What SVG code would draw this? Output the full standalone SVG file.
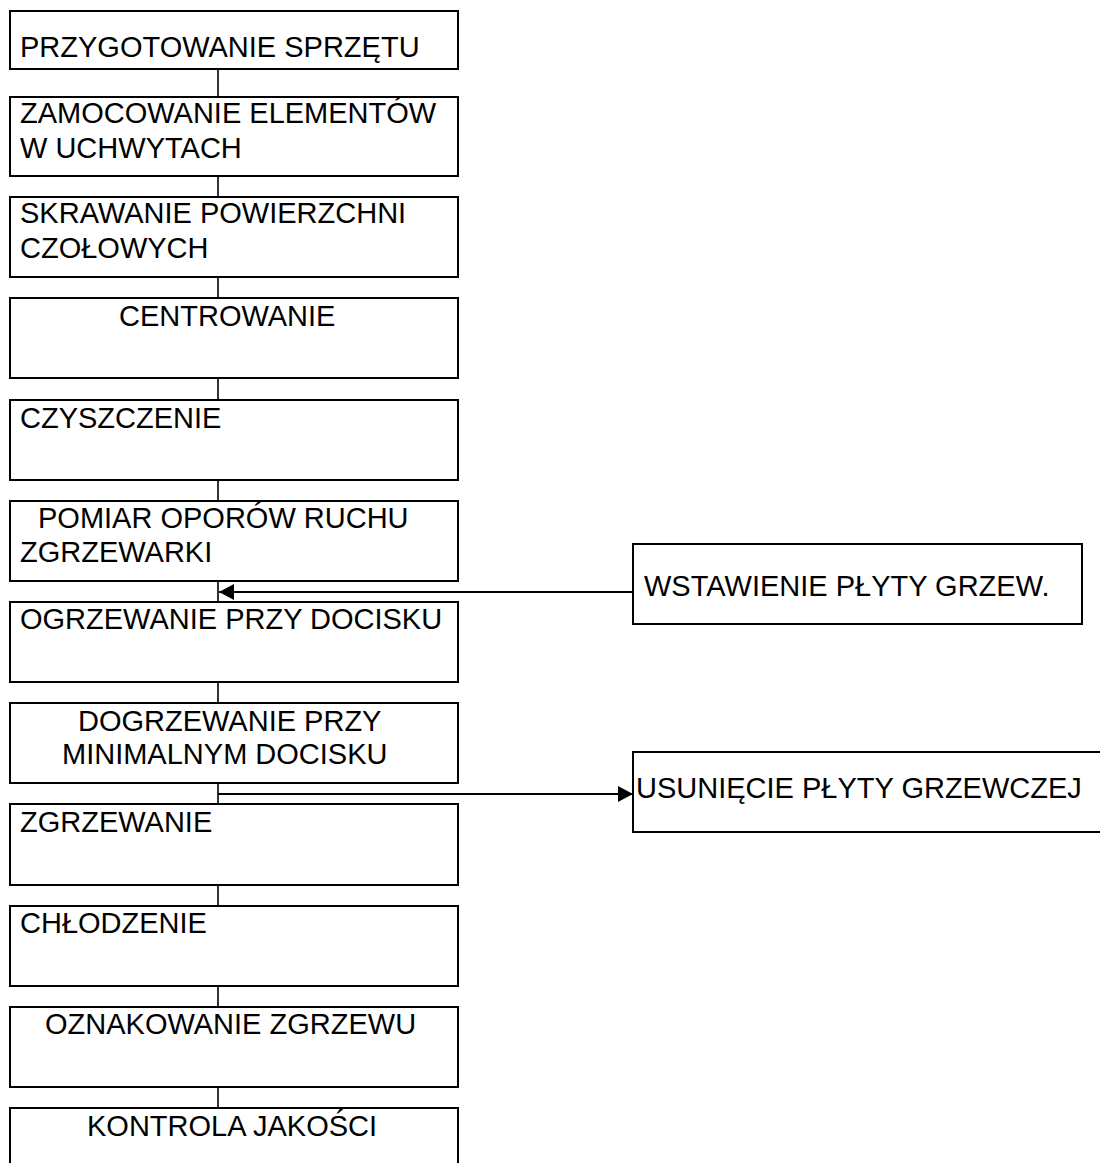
<svg xmlns="http://www.w3.org/2000/svg" width="1100" height="1163" viewBox="0 0 1100 1163">
<style>
.box{fill:#fff;stroke:#000;stroke-width:2}
.t{font-family:"Liberation Sans",Arial,sans-serif;font-size:29px;fill:#000}
.c{stroke:#000;stroke-width:1.6;fill:none}
.a{stroke:#000;stroke-width:2;fill:none}
</style>
<defs>
<marker id="ah" viewBox="0 0 15 16" refX="15" refY="8" markerWidth="15" markerHeight="16" markerUnits="userSpaceOnUse" orient="auto">
<path d="M0,0 L15,8 L0,16 Z" fill="#000"/>
</marker>
</defs>
<rect width="1100" height="1163" fill="#fff"/>
<g id="connectors">
<line class="c" x1="218" y1="69" x2="218" y2="97"/>
<line class="c" x1="218" y1="176" x2="218" y2="197"/>
<line class="c" x1="218" y1="277" x2="218" y2="298"/>
<line class="c" x1="218" y1="378" x2="218" y2="400"/>
<line class="c" x1="218" y1="480" x2="218" y2="501"/>
<line class="c" x1="218" y1="581" x2="218" y2="602"/>
<line class="c" x1="218" y1="682" x2="218" y2="703"/>
<line class="c" x1="218" y1="783" x2="218" y2="804"/>
<line class="c" x1="218" y1="885" x2="218" y2="906"/>
<line class="c" x1="218" y1="986" x2="218" y2="1007"/>
<line class="c" x1="218" y1="1087" x2="218" y2="1108"/>
<line class="a" x1="633" y1="592" x2="219" y2="592" marker-end="url(#ah)"/>
<line class="a" x1="218" y1="794" x2="633" y2="794" marker-end="url(#ah)"/>
</g>
<g id="n1"><rect class="box" x="10" y="11" width="448" height="58"/><text class="t" x="20" y="57">PRZYGOTOWANIE SPRZĘTU</text></g>
<g id="n2"><rect class="box" x="10" y="97" width="448" height="79"/><text class="t" x="20" y="123">ZAMOCOWANIE ELEMENTÓW</text><text class="t" x="20" y="158">W UCHWYTACH</text></g>
<g id="n3"><rect class="box" x="10" y="197" width="448" height="80"/><text class="t" x="20" y="223">SKRAWANIE POWIERZCHNI</text><text class="t" x="20" y="258">CZOŁOWYCH</text></g>
<g id="n4"><rect class="box" x="10" y="298" width="448" height="80"/><text class="t" x="119" y="326">CENTROWANIE</text></g>
<g id="n5"><rect class="box" x="10" y="400" width="448" height="80"/><text class="t" x="20" y="428">CZYSZCZENIE</text></g>
<g id="n6"><rect class="box" x="10" y="501" width="448" height="80"/><text class="t" x="38" y="528">POMIAR OPORÓW RUCHU</text><text class="t" x="20" y="562">ZGRZEWARKI</text></g>
<g id="n7"><rect class="box" x="10" y="602" width="448" height="80"/><text class="t" x="20" y="629">OGRZEWANIE PRZY DOCISKU</text></g>
<g id="n8"><rect class="box" x="10" y="703" width="448" height="80"/><text class="t" x="78" y="731">DOGRZEWANIE PRZY</text><text class="t" x="62" y="764">MINIMALNYM DOCISKU</text></g>
<g id="n9"><rect class="box" x="10" y="804" width="448" height="81"/><text class="t" x="20" y="832">ZGRZEWANIE</text></g>
<g id="n10"><rect class="box" x="10" y="906" width="448" height="80"/><text class="t" x="20" y="933">CHŁODZENIE</text></g>
<g id="n11"><rect class="box" x="10" y="1007" width="448" height="80"/><text class="t" x="45" y="1034">OZNAKOWANIE ZGRZEWU</text></g>
<g id="n12"><rect class="box" x="10" y="1108" width="448" height="80"/><text class="t" x="87" y="1136">KONTROLA JAKOŚCI</text></g>
<g id="n13"><rect class="box" x="633" y="544" width="449" height="80"/><text class="t" x="644" y="596">WSTAWIENIE PŁYTY GRZEW.</text></g>
<g id="n14"><rect class="box" x="633" y="752" width="490" height="80"/><text class="t" x="636" y="798">USUNIĘCIE PŁYTY GRZEWCZEJ</text></g>
</svg>
